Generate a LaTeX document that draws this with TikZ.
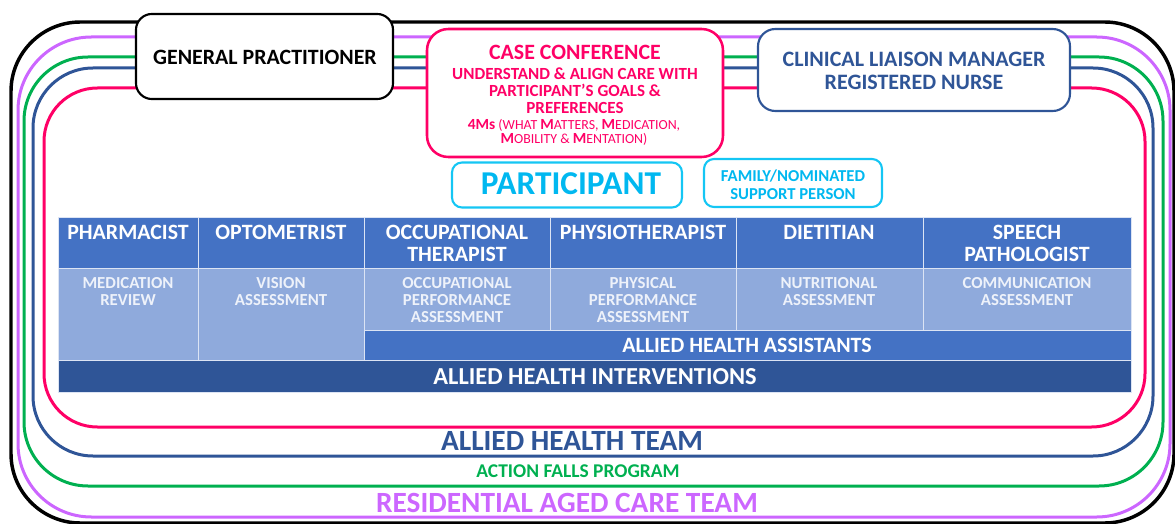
\documentclass[tikz,border=0pt]{standalone}
\usepackage{fontspec}
\setmainfont{Carlito}
\definecolor{rpink}{HTML}{FF0066}
\definecolor{navy}{HTML}{2F5597}
\definecolor{rgreen}{HTML}{00B050}
\definecolor{rpurple}{HTML}{CC66FF}
\definecolor{cyanb}{HTML}{14C6F4}
\definecolor{cyant}{HTML}{00B8F0}
\definecolor{hdrblue}{HTML}{4472C4}
\definecolor{lightblue}{HTML}{8FAADC}
\definecolor{cellline}{HTML}{DCE4F4}
\definecolor{paletext}{HTML}{EEF2FA}
\newcommand\bigM[1]{{\fontsize{11.6}{10.5}\selectfont\bfseries #1}}
\begin{document}
\begin{tikzpicture}[x=0.75pt,y=-0.75pt,
  frame/.style={line width=2.25pt},
  topbox/.style={fill=white, rounded corners=12pt, line width=1.6pt, inner sep=0pt},
  cell/.style={anchor=north west, inner sep=0pt, draw=cellline, line width=1pt},
  hdrtext/.style={anchor=north, align=center, text=white, inner sep=0pt,
    font=\fontsize{16.4}{16.5}\selectfont\bfseries},
  asstext/.style={anchor=north, align=center, text=paletext, inner sep=0pt,
    font=\fontsize{12.6}{12.75}\selectfont\bfseries},
  bartext/.style={text=white, inner sep=0pt, font=\fontsize{16.4}{16.5}\selectfont\bfseries},
  teamtext/.style={inner sep=0pt, font=\fontsize{22}{22}\selectfont\bfseries}]
\useasboundingbox (0,0) rectangle (1175,524);
\clip (0,0) rectangle (1175,524);

% nested team frames
\draw[frame, black, line width=2.6pt, rounded corners=52pt] (11,22) rectangle (1174,523);
\draw[frame, rpurple, rounded corners=55pt] (18,37) rectangle (1170,517);
\draw[frame, rgreen, rounded corners=48pt] (24,57) rectangle (1163,486);
\draw[frame, navy, rounded corners=45pt] (33,68) rectangle (1153,456);
\draw[frame, rpink, rounded corners=40pt] (44,88) rectangle (1145,427);

% frame labels
\node[teamtext, text=navy] (aht) at (572,441) {ALLIED HEALTH TEAM};
\node[inner sep=0pt, text=rgreen, font=\fontsize{14.6}{14.6}\selectfont\bfseries] (afp) at (578,471) {ACTION FALLS PROGRAM};
\node[teamtext, text=rpurple] (ract) at (567,503) {RESIDENTIAL AGED CARE TEAM};

% top boxes
\node[topbox, draw=black, minimum width=192.8pt, minimum height=63.8pt] (gp) at (264.5,56.5) {};
\node[inner sep=0pt, font=\fontsize{16.4}{16.5}\selectfont\bfseries] (gptext) at (265,57) {GENERAL PRACTITIONER};

\node[topbox, draw=rpink, line width=1.9pt, rounded corners=16pt, minimum width=222pt, minimum height=96pt] (cc) at (575,93) {};
\node[inner sep=0pt, text=rpink, font=\fontsize{16.4}{16.5}\selectfont\bfseries] (cctitle) at (575,52) {CASE CONFERENCE};
\node[anchor=north, align=center, inner sep=0pt, text=rpink, font=\fontsize{12.75}{12.75}\selectfont\bfseries] (ccgoals) at (575,67.5)
  {UNDERSTAND \& ALIGN CARE WITH\\PARTICIPANT’S GOALS \&\\PREFERENCES};
\node[anchor=north, align=center, inner sep=0pt, text=rpink, font=\fontsize{10.4}{10.5}\selectfont] (ccfour) at (574,119)
  {\bigM{4Ms} (WHAT \bigM{M}ATTERS, \bigM{M}EDICATION,\\\bigM{M}OBILITY \& \bigM{M}ENTATION)};

\node[topbox, draw=navy, rounded corners=13pt, minimum width=234pt, minimum height=61.5pt] (clm) at (914,70) {};
\node[anchor=north, align=center, inner sep=0pt, text=navy, font=\fontsize{16.5}{17.25}\selectfont\bfseries] (clmtext) at (914,52)
  {CLINICAL LIAISON MANAGER\\REGISTERED NURSE};

\node[topbox, draw=cyanb, rounded corners=7.5pt, minimum width=172.5pt, minimum height=33.75pt] (part) at (567,185) {};
\node[inner sep=0pt, text=cyant, font=\fontsize{25}{25}\selectfont\bfseries] (parttext) at (571,184) {PARTICIPANT};

\node[topbox, draw=cyanb, rounded corners=7.5pt, minimum width=133.5pt, minimum height=36pt] (fam) at (793,183) {};
\node[anchor=north, align=center, inner sep=0pt, text=cyant, font=\fontsize{12.5}{13.5}\selectfont\bfseries] (famtext) at (793,169.6)
  {FAMILY/NOMINATED\\SUPPORT PERSON};

% discipline header row
\node[cell, fill=hdrblue, minimum width=105pt, minimum height=38.25pt] (h1) at (58,217) {};
\node[cell, fill=hdrblue, minimum width=124.5pt, minimum height=38.25pt] (h2) at (198,217) {};
\node[cell, fill=hdrblue, minimum width=139.5pt, minimum height=38.25pt] (h3) at (364,217) {};
\node[cell, fill=hdrblue, minimum width=139.5pt, minimum height=38.25pt] (h4) at (550,217) {};
\node[cell, fill=hdrblue, minimum width=140.25pt, minimum height=38.25pt] (h5) at (736,217) {};
\node[cell, fill=hdrblue, minimum width=156pt, minimum height=38.25pt] (h6) at (923,217) {};

% assessment row
\node[cell, fill=lightblue, minimum width=105pt, minimum height=69pt] (a1) at (58,268) {};
\node[cell, fill=lightblue, minimum width=124.5pt, minimum height=69pt] (a2) at (198,268) {};
\node[cell, fill=lightblue, minimum width=139.5pt, minimum height=46.5pt] (a3) at (364,268) {};
\node[cell, fill=lightblue, minimum width=139.5pt, minimum height=46.5pt] (a4) at (550,268) {};
\node[cell, fill=lightblue, minimum width=140.25pt, minimum height=46.5pt] (a5) at (736,268) {};
\node[cell, fill=lightblue, minimum width=156pt, minimum height=46.5pt] (a6) at (923,268) {};

% assistants and interventions bars
\node[cell, fill=hdrblue, minimum width=575.25pt, minimum height=22.5pt] (assist) at (364,330) {};
\node[cell, fill=navy, minimum width=804.75pt, minimum height=24pt] (interv) at (58,360) {};

% header labels
\node[hdrtext] (t1) at (128,225) {PHARMACIST};
\node[hdrtext] (t2) at (281,225) {OPTOMETRIST};
\node[hdrtext] (t3) at (457,225) {OCCUPATIONAL\\THERAPIST};
\node[hdrtext] (t4) at (643,225) {PHYSIOTHERAPIST};
\node[hdrtext] (t5) at (829,225) {DIETITIAN};
\node[hdrtext] (t6) at (1027,225) {SPEECH\\PATHOLOGIST};

% assessment labels
\node[asstext] (s1) at (128,277.6) {MEDICATION\\REVIEW};
\node[asstext] (s2) at (281,277.6) {VISION\\ASSESSMENT};
\node[asstext] (s3) at (457,277.6) {OCCUPATIONAL\\PERFORMANCE\\ASSESSMENT};
\node[asstext] (s4) at (643,277.6) {PHYSICAL\\PERFORMANCE\\ASSESSMENT};
\node[asstext] (s5) at (829,277.6) {NUTRITIONAL\\ASSESSMENT};
\node[asstext] (s6) at (1027,277.6) {COMMUNICATION\\ASSESSMENT};

\node[bartext] (assisttext) at (747,345) {ALLIED HEALTH ASSISTANTS};
\node[bartext, font=\fontsize{18.3}{18.3}\selectfont\bfseries] (intervtext) at (595,377) {ALLIED HEALTH INTERVENTIONS};
\end{tikzpicture}
\end{document}
